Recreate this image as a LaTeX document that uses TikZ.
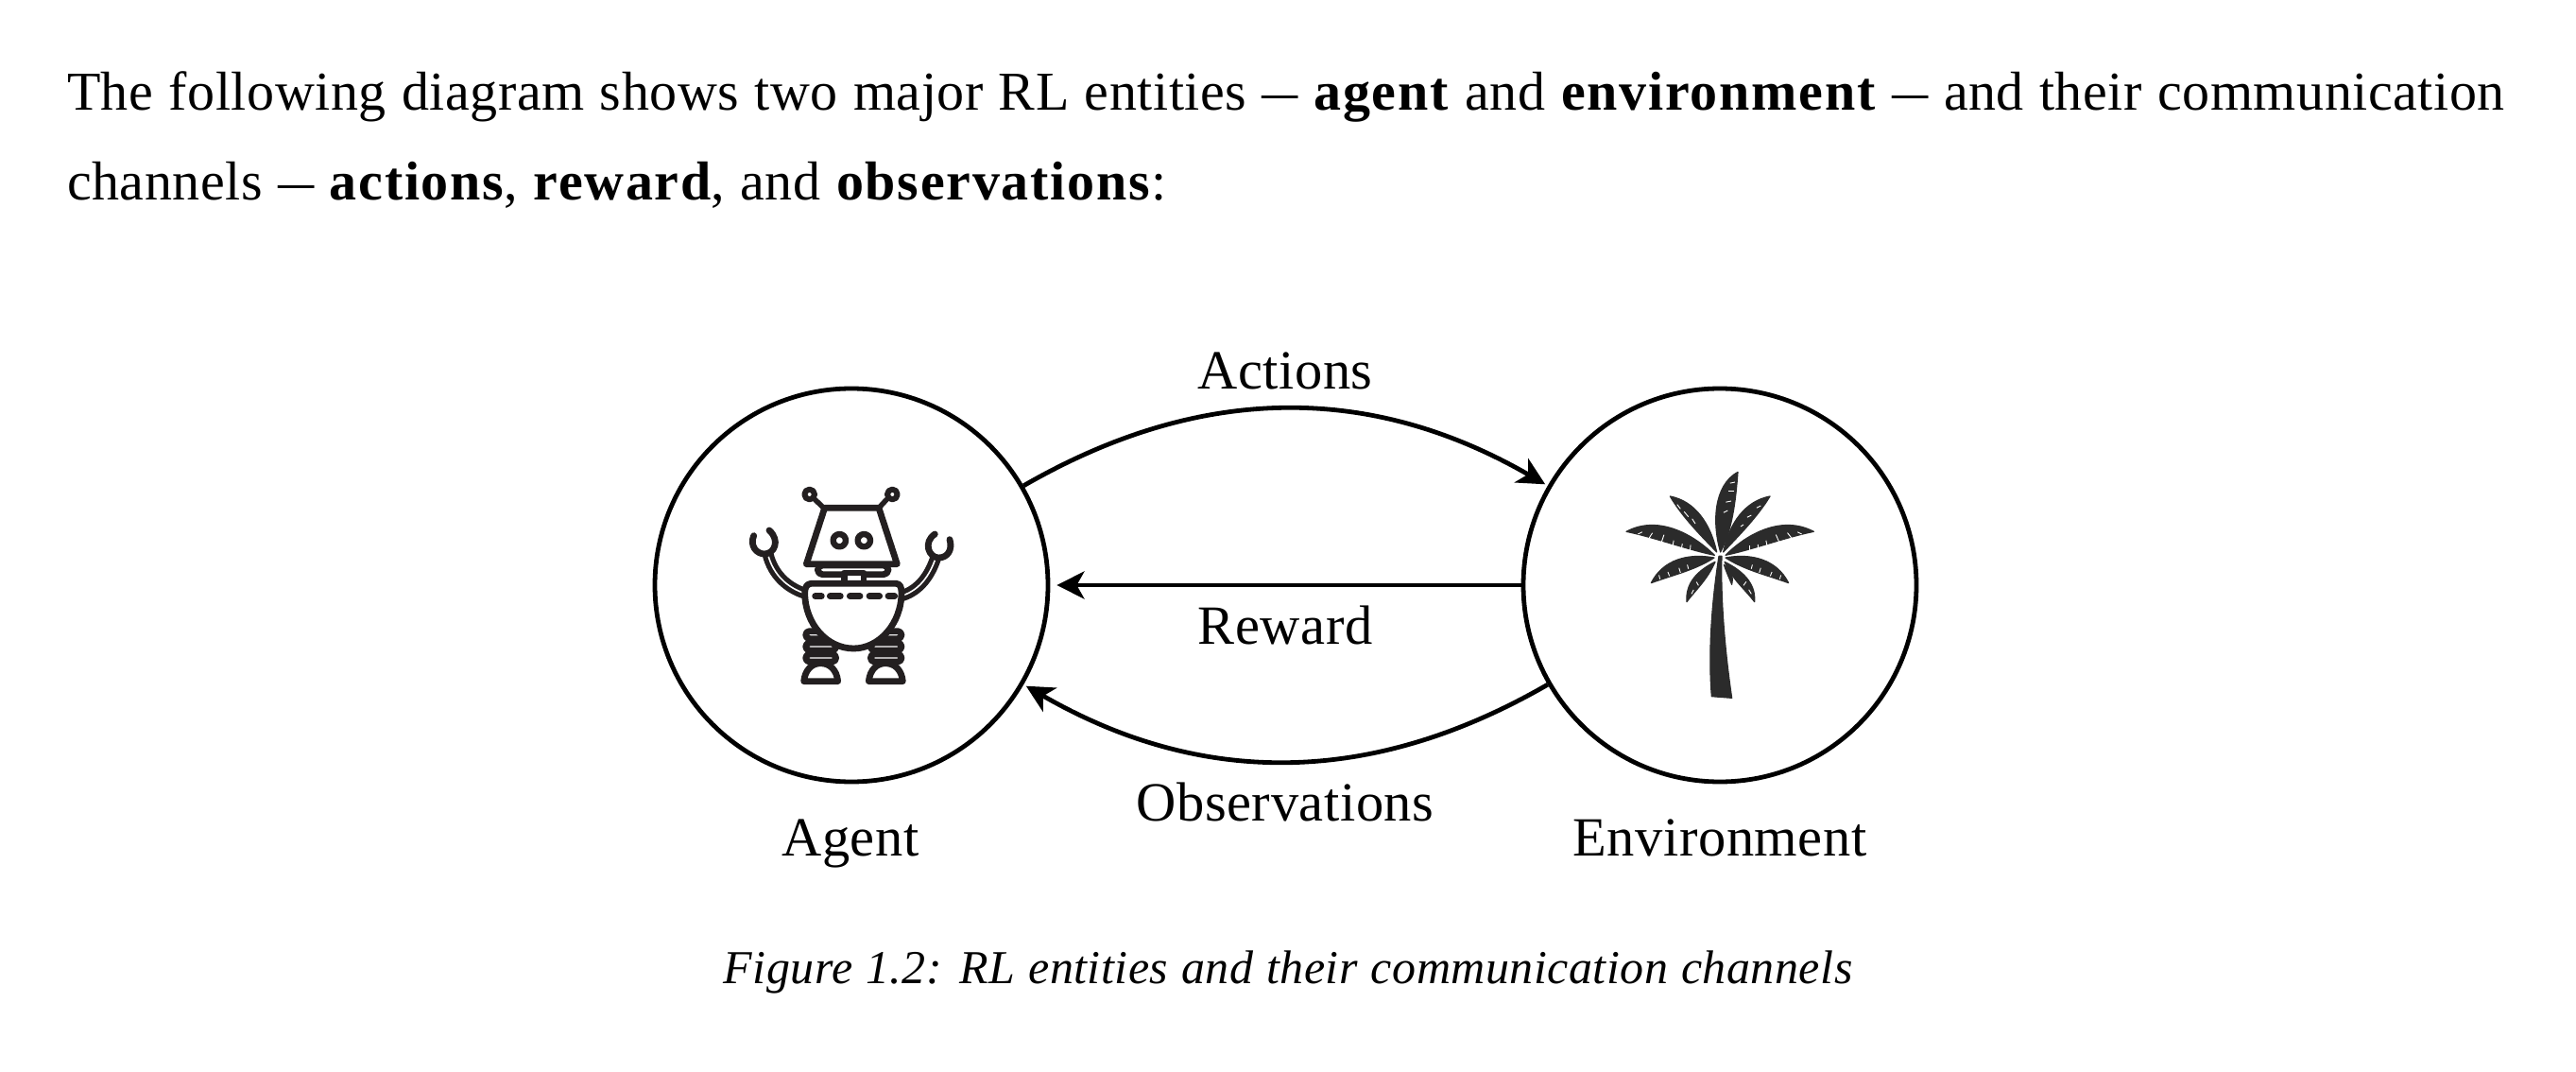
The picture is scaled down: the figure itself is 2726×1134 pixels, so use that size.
\documentclass[tikz,border=0pt]{standalone}
\usepackage{fontspec}
\setmainfont{Liberation Serif}[LetterSpace=1,WordSpace=1.08,BoldFeatures={LetterSpace=3}]
\usetikzlibrary{arrows.meta}
\definecolor{ink}{HTML}{231F20}
\definecolor{palmc}{HTML}{2B2B2B}
\newcommand{\shortdash}{\scalebox{0.66}[1]{—}}
\tikzset{
  txt/.style={inner sep=0pt,outer sep=0pt,anchor=base west,font=\fontsize{58}{60}\selectfont},
  lab/.style={inner sep=0pt,outer sep=0pt,anchor=base,font=\fontsize{58.5}{60}\selectfont},
  captxt/.style={inner sep=0pt,outer sep=0pt,anchor=base,font=\fontsize{50}{60}\selectfont\itshape},
  ent/.style={circle,draw=black,line width=4.8pt,minimum size=416pt,inner sep=0pt},
  flow/.style={draw=black,line width=4.8pt,-{Stealth[length=29pt,width=29pt,inset=8pt]}},
  rob/.style={draw=ink,line width=6.8pt,line cap=round,line join=round},
  frond/.style={fill=palmc,draw=palmc,line width=1.2pt,line join=round},
  notch/.style={draw=white,line width=0.9pt,shorten >=2.5pt}
}
\begin{document}
\begin{tikzpicture}[x=1pt,y=-1pt]
\useasboundingbox (0,0) rectangle (2726,1134);
\fill[white] (0,0) rectangle (2726,1134);
\node[txt] (l1) at (71,117) {The following diagram shows two major RL entities \shortdash{} \textbf{agent} and \textbf{environment} \shortdash{} and their communication};
\node[txt] (l2) at (71,212) {channels \shortdash{} \textbf{actions}, \textbf{reward}, and \textbf{observations}:};
\node[ent] (agent) at (901,619) {};
\node[ent] (env) at (1820,619) {};
\draw[flow,shorten >=3pt] (agent.30) to[out=30,in=150] (env.150);
\draw[flow,shorten >=7pt] (env.180) -- (agent.0);
\draw[flow,shorten >=3pt] (env.210) to[out=210,in=-30] (agent.-30);
\node[lab] (a) at (1360,411) {Actions};
\node[lab] (r) at (1360,681) {Reward};
\node[lab] (o) at (1360,868) {Observations};
\node[lab] (ag) at (900,905) {Agent};
\node[lab] (en) at (1820,905) {Environment};
\node[captxt] (c) at (1363,1040) {Figure 1.2: RL entities and their communication channels};
% robot
\begin{scope}[shift={(760,480)},scale=1/3]
  % legs
  \foreach \xa/\xb in {278/374,484/582}{
    \foreach \yy in {575,612,648}{
      \draw[rob,fill=white,rounded corners=4pt] (\xa,\yy-12) rectangle (\xb,\yy+12);
    }
  }
  \draw[rob,fill=white] (272,722) .. controls (276,685) and (298,665) .. (325,665) .. controls (354,665) and (376,685) .. (380,722) -- cycle;
  \draw[rob,fill=white] (478,722) .. controls (482,685) and (504,665) .. (531,665) .. controls (560,665) and (582,685) .. (586,722) -- cycle;
  % arms
  \draw[draw=ink,line width=12pt] (158,320) .. controls (175,385) and (220,425) .. (275,443);
  \draw[draw=white,line width=1.6pt] (158,320) .. controls (175,385) and (220,425) .. (275,443);
  \draw[draw=ink,line width=12pt] (690,332) .. controls (672,385) and (640,432) .. (585,450);
  \draw[draw=white,line width=1.6pt] (690,332) .. controls (672,385) and (640,432) .. (585,450);
  % hands
  \draw[rob] (113,260) .. controls (100,290) and (120,318) .. (147,318) .. controls (178,318) and (198,275) .. (162,243);
  \draw[rob] (688,255) .. controls (650,280) and (668,330) .. (700,330) .. controls (728,330) and (745,305) .. (735,272);
  % antennas
  \draw[rob,line width=5.5pt] (307,145) -- (335,172) (535,145) -- (510,172);
  \draw[rob,line width=6pt] (290,129) circle (16);
  \draw[rob,line width=6pt] (553,129) circle (16);
  % head
  \draw[rob] (338,172) -- (510,172) -- (568,350) -- (280,350) -- cycle;
  \draw[rob,line width=6.4pt] (385,275) circle (20);
  \draw[rob,line width=6.4pt] (463,275) circle (20);
  % neck
  \draw[rob,fill=white,rounded corners=5pt] (316,354) rectangle (540,383);
  \draw[rob,fill=white] (400,378) rectangle (462,414);
  % body
  \draw[rob,fill=white] (295,412) -- (565,412) .. controls (578,412) and (582,425) .. (582,440) .. controls (582,540) and (510,618) .. (430,618) .. controls (345,618) and (275,540) .. (275,440) .. controls (275,425) and (282,412) .. (295,412) -- cycle;
  \foreach \xa/\xb in {308/328,355/388,418/450,480/512,540/560}{
    \draw[rob] (\xa,452) -- (\xb,452);
  }
\end{scope}
% palm
\begin{scope}[shift={(1690,480)},scale=1/3]
  \filldraw[frond] (387,325) .. controls (372,420) and (350,600) .. (364,770) -- (428,775) .. controls (405,620) and (392,450) .. (396,325) -- cycle;
  \filldraw[frond] (392,312) .. controls (365,220) and (370,100) .. (447,58) .. controls (440,150) and (430,240) .. (392,312) -- cycle;
  \filldraw[frond] (380,312) .. controls (360,220) and (310,150) .. (232,135) .. controls (270,200) and (330,260) .. (380,312) -- cycle;
  \filldraw[frond] (401,312) .. controls (420,220) and (470,150) .. (549,135) .. controls (510,200) and (450,260) .. (401,312) -- cycle;
  \filldraw[frond] (373,322) .. controls (300,250) and (190,195) .. (93,247) .. controls (180,265) and (290,305) .. (373,322) -- cycle;
  \filldraw[frond] (408,322) .. controls (480,250) and (590,195) .. (688,247) .. controls (600,265) and (490,305) .. (408,322) -- cycle;
  \filldraw[frond] (372,330) .. controls (290,315) and (210,335) .. (172,410) .. controls (240,385) and (310,370) .. (372,330) -- cycle;
  \filldraw[frond] (408,330) .. controls (490,315) and (570,335) .. (608,410) .. controls (540,385) and (470,370) .. (408,330) -- cycle;
  \filldraw[frond] (375,343) .. controls (320,370) and (280,410) .. (285,470) .. controls (315,430) and (350,400) .. (375,343) -- cycle;
  \filldraw[frond] (405,343) .. controls (460,370) and (505,410) .. (500,470) .. controls (470,430) and (430,400) .. (405,343) -- cycle;
  \filldraw[frond] (403,352) .. controls (425,370) and (435,395) .. (428,415) .. controls (420,395) and (410,375) .. (403,352) -- cycle;
  % notches
  \foreach \ax/\ay/\bx/\by in {
    438/90/415/95, 436/118/410/118, 426/150/402/155, 415/180/395/190,
    265/175/250/155, 290/200/272/178, 312/222/298/200,
    520/165/500/175, 490/195/470/205, 465/225/450/235,
    130/255/150/245, 165/268/180/245, 205/280/215/250, 240/292/245/268, 268/302/272/278, 295/310/298/282,
    650/255/630/245, 618/268/600/245, 578/280/565/250, 540/292/535/268, 512/302/510/280, 485/310/485/282,
    200/398/195/378, 230/388/222/368, 265/378/258/355, 290/365/285/345,
    580/398/586/378, 550/388/558/368, 515/378/522/355, 490/365/495/345,
    300/445/310/425, 322/418/312/400,
    490/445/478/425, 465/418/478/400}{
    \draw[notch] (\ax,\ay) -- (\bx,\by);
  }
\end{scope}
\end{tikzpicture}
\end{document}
